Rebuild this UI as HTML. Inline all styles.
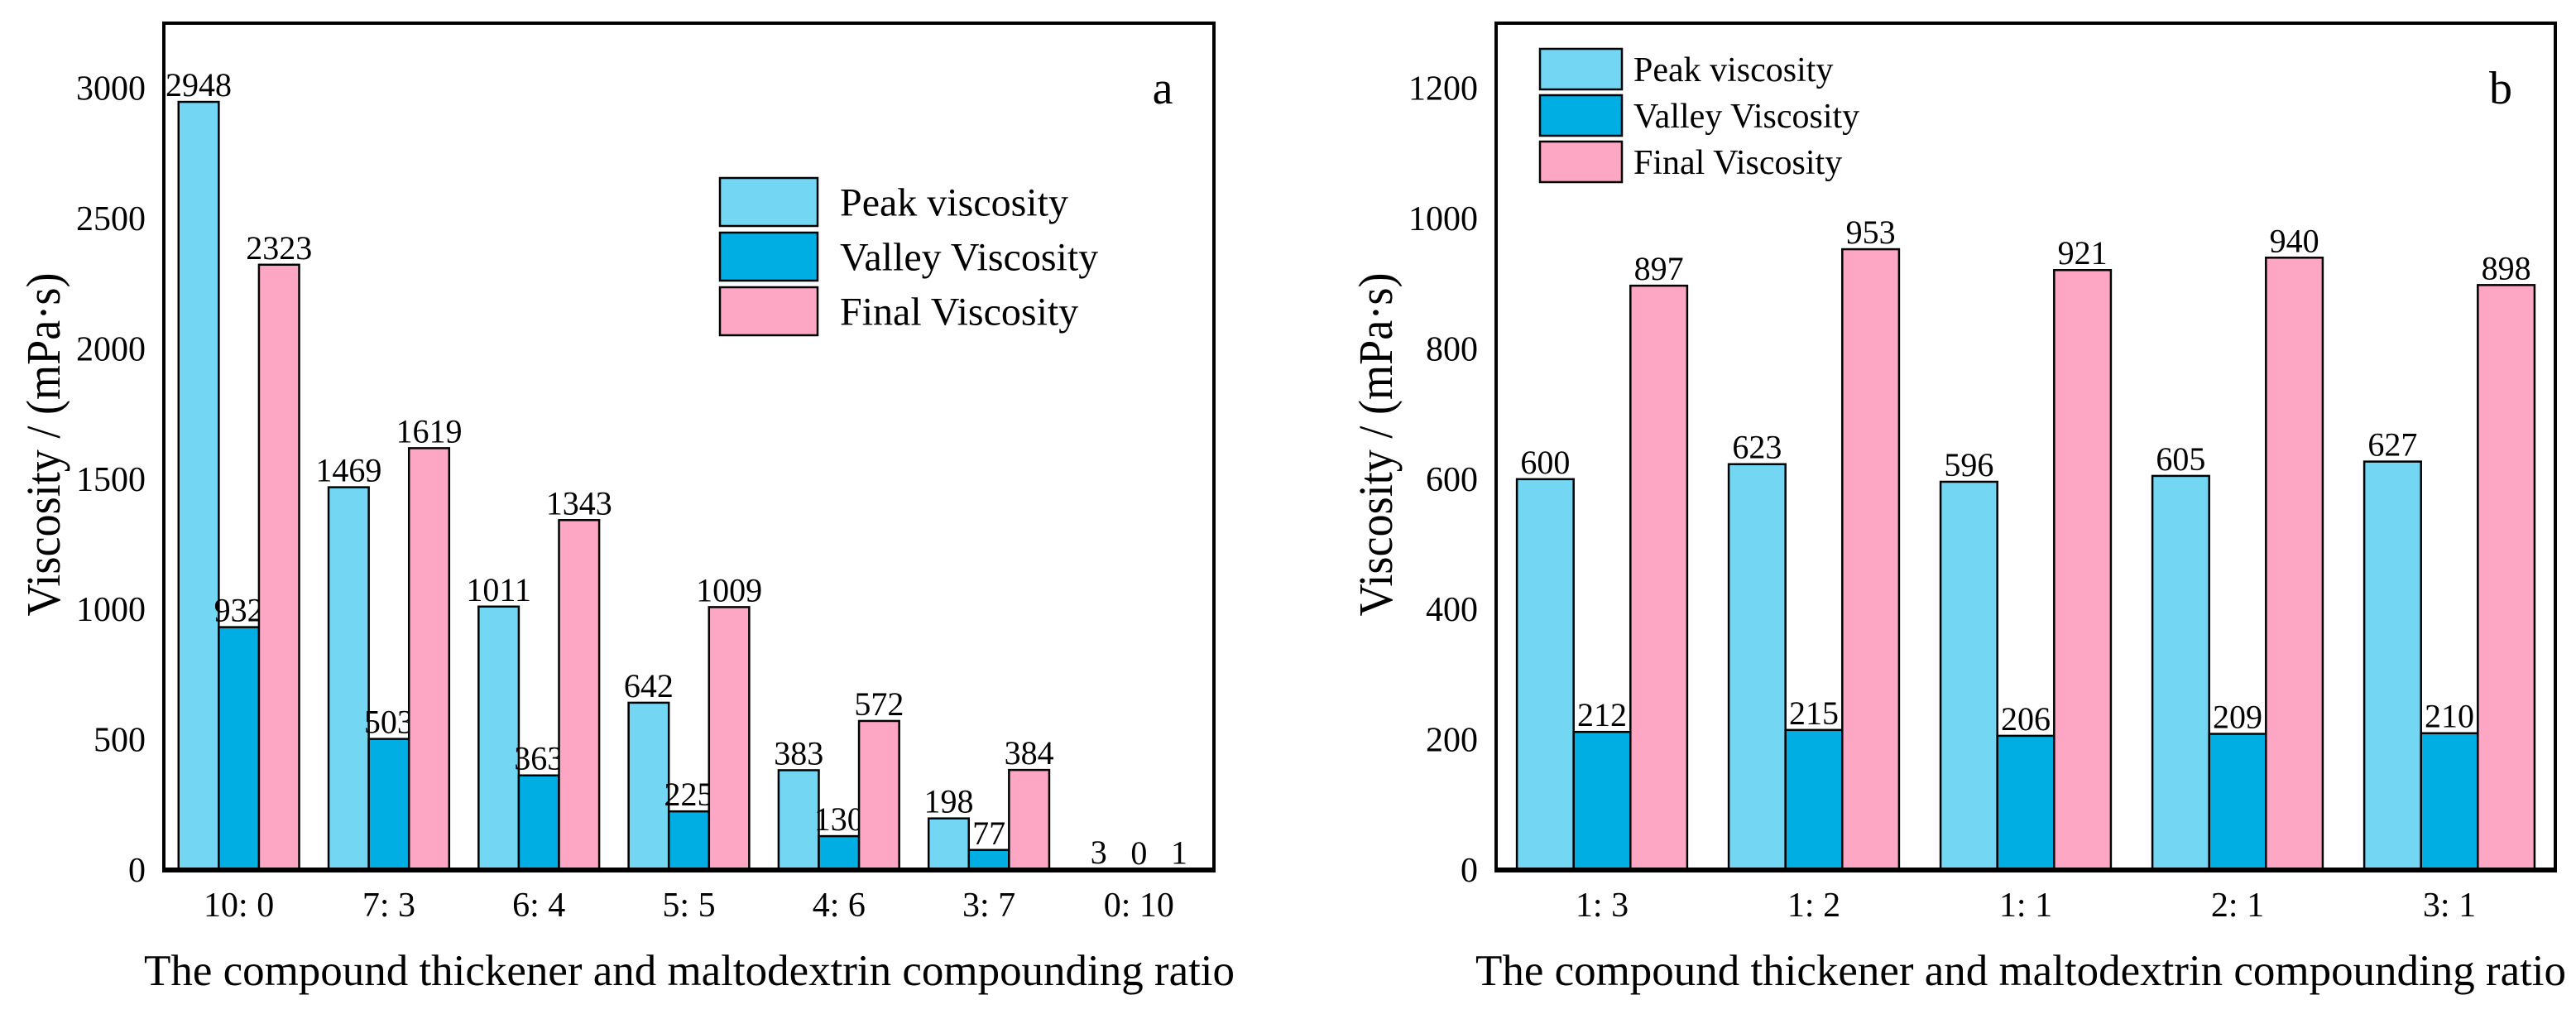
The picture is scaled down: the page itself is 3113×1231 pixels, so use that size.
<!DOCTYPE html>
<html><head><meta charset="utf-8"><style>
html,body{margin:0;padding:0;background:#fff;}
svg{display:block;font-family:"Liberation Serif","Times New Roman",serif;}
</style></head><body>
<svg id="chart" width="3113" height="1231" viewBox="0 0 3113 1231" xmlns="http://www.w3.org/2000/svg"></svg>
<script>
const catsA = ["10: 0","7: 3","6: 4","5: 5","4: 6","3: 7","0: 10"];
const peakA = [2948,1469,1011,642,383,198,3];
const valleyA = [932,503,363,225,130,77,0];
const finalA = [2323,1619,1343,1009,572,384,1];
const ticksA = [0,500,1000,1500,2000,2500,3000];

const catsB = ["1: 3","1: 2","1: 1","2: 1","3: 1"];
const peakB = [600,623,596,605,627];
const valleyB = [212,215,206,209,210];
const finalB = [897,953,921,940,898];
const ticksB = [0,200,400,600,800,1000,1200];

const seriesNames = ["Peak viscosity","Valley Viscosity","Final Viscosity"];
const colors = ["#73D7F3","#00AEE3","#FDA7C5"];
const NS = "http://www.w3.org/2000/svg";
const svg = document.getElementById('chart');
function mk(tag, attrs, parent, text){
  const e = document.createElementNS(NS, tag);
  for (const k in attrs) e.setAttribute(k, attrs[k]);
  if (text !== undefined) e.textContent = text;
  (parent||svg).appendChild(e);
  return e;
}
function panel(cfg){
  const g = mk('g', {});
  
  
  const {L,R,T,B,max} = cfg;
  const y = v => B - (v/max)*(B-T);
  const band = (R-L)/cfg.cats.length;
  const bw = band*0.268;
  const fr = mk('rect',{x:L,y:T,width:R-L,height:B-T,fill:'none',stroke:'#000','stroke-width':4},g);
  
  
  cfg.ticks.forEach(t=>{
    const tl = mk('text',{x:L-22,y:y(t)+14,'text-anchor':'end','font-size':42},g,String(t));
    
    
  });
  const data = [cfg.peak,cfg.valley,cfg.fin];
  cfg.cats.forEach((c,i)=>{
    const cx = L + band*(i+0.5);
    data.forEach((arr,s)=>{
      const x = cx - 1.5*bw + s*bw;
      const r = mk('rect',{x:x,y:y(arr[i]),width:bw,height:B-y(arr[i]),fill:colors[s],stroke:'#000','stroke-width':2.5},g);
      
      
      const vl = mk('text',{x:x+bw/2,y:y(arr[i])-7,'text-anchor':'middle','font-size':40},g,String(arr[i]));
      
      
    });
    const xl = mk('text',{x:cx,y:1107,'text-anchor':'middle','font-size':42},g,c);
    
    
  });
  const ax = mk('line',{x1:L-2,x2:R+2,y1:B,y2:B,stroke:'#000','stroke-width':6},g);
  
  
  const yt = mk('text',{x:0,y:0,'text-anchor':'middle','font-size':58,transform:'translate('+cfg.ytx+',537) rotate(-90)',textLength:415,lengthAdjust:'spacingAndGlyphs'},g,'Viscosity / (mPa·s)');
  
  
  const xt = mk('text',{x:cfg.xtx,y:1190,'font-size':53,textLength:1318,lengthAdjust:'spacingAndGlyphs'},g,'The compound thickener and maltodextrin compounding ratio');
  
  
  const pl = mk('text',{x:cfg.lx,y:125,'text-anchor':'middle','font-size':56},g,cfg.letter);
  
  
  seriesNames.forEach((n,s)=>{
    const lg = mk('rect',{x:cfg.legX,y:cfg.legY+s*cfg.legStep,width:cfg.legW,height:cfg.legH,fill:colors[s],stroke:'#000','stroke-width':2.5},g);
    
    
    const lt = mk('text',{x:cfg.legX+cfg.legW+cfg.legGap,y:cfg.legY+s*cfg.legStep+cfg.legH/2+cfg.legFs*0.34,'font-size':cfg.legFs},g,n);
    
    
  });
}
panel({name:'chart-a',L:198,R:1467,T:28,B:1051,max:3250,cats:catsA,peak:peakA,valley:valleyA,fin:finalA,ticks:ticksA,
  ytx:72,xtx:174,lx:1405,letter:'a',legX:870,legY:215,legStep:66,legW:118,legH:58,legGap:27,legFs:48});
panel({name:'chart-b',L:1808,R:3088,T:28,B:1051,max:1300,cats:catsB,peak:peakB,valley:valleyB,fin:finalB,ticks:ticksB,
  ytx:1682,xtx:1783,lx:3022,letter:'b',legX:1861,legY:59,legStep:56,legW:99,legH:49,legGap:14,legFs:42});
</script>
</body></html>
